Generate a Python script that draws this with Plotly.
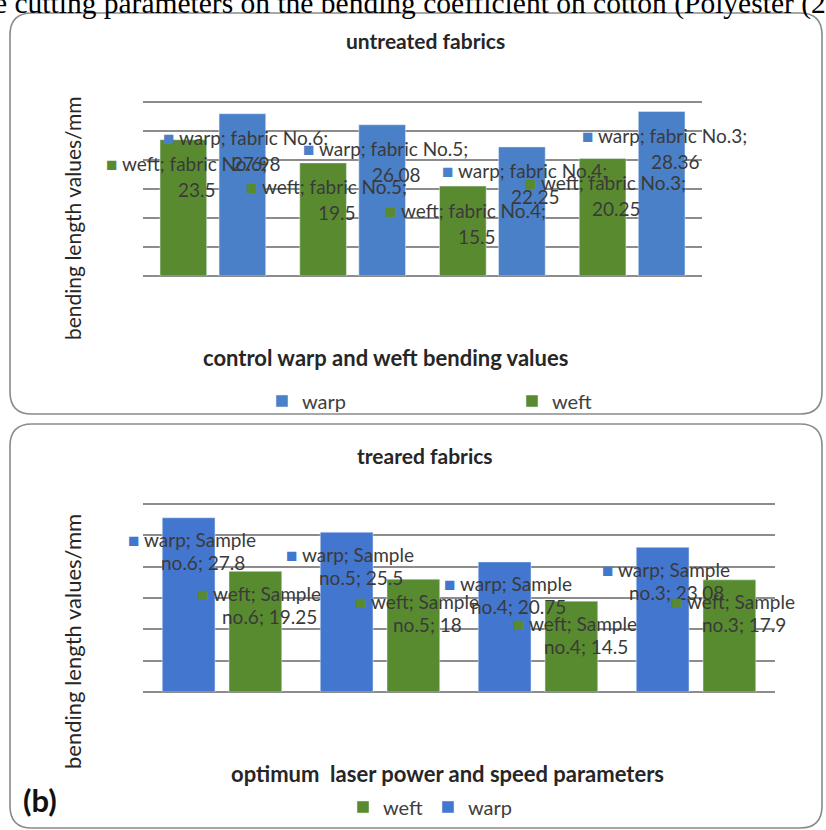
import plotly.graph_objects as go

# ---------------- data ----------------
top_categories = ["fabric No.6", "fabric No.5", "fabric No.4", "fabric No.3"]
top_weft = [23.5, 19.5, 15.5, 20.25]
top_warp = [27.98, 26.08, 22.25, 28.36]

bottom_categories = ["Sample no.6", "Sample no.5", "Sample no.4", "Sample no.3"]
bottom_warp = [27.8, 25.5, 20.75, 23.08]
bottom_weft = [19.25, 18, 14.5, 17.9]

top_title = "untreated fabrics"
bottom_title = "treared fabrics"
top_xtitle = "control warp and weft bending values"
bottom_xtitle = "optimum  laser power and speed parameters"
ytitle = "bending length values/mm"
caption = "e cutting parameters on the bending coefficient on cotton (Polyester (2"

# ---------------- style ----------------
W, H = 826, 830
FONT = "Lato"
WARP_TOP = "#4a80c8"
WEFT_TOP = "#5a8a30"
WARP_BOT = "#4376cf"
WEFT_BOT = "#588a2f"
GRID = "#8c8c8c"
LABEL = "#3a3a3a"
YMAX = 30.6


def px(x):
    return x / W


def py(y):
    return 1 - y / H


fig = go.Figure()

fig.add_trace(go.Bar(x=top_categories, y=top_weft, name="weft", marker_color=WEFT_TOP,
                     xaxis="x", yaxis="y", legend="legend", legendrank=2))
fig.add_trace(go.Bar(x=top_categories, y=top_warp, name="warp", marker_color=WARP_TOP,
                     xaxis="x", yaxis="y", legend="legend", legendrank=1))
fig.add_trace(go.Bar(x=bottom_categories, y=bottom_warp, name="warp", marker_color=WARP_BOT,
                     xaxis="x2", yaxis="y2", legend="legend2", legendrank=2))
fig.add_trace(go.Bar(x=bottom_categories, y=bottom_weft, name="weft", marker_color=WEFT_BOT,
                     xaxis="x2", yaxis="y2", legend="legend2", legendrank=1))

annotations = []
LFS = 19


def add_labels(cats, vals, series, color, xref, yref, xoff, l1, l2, split):
    for c, v in zip(cats, vals):
        if split:
            first, rest = c.split(" ", 1)
            t1 = f"{series}; {first}"
            t2 = f"{rest}; {v:g}"
        else:
            t1 = f"{series}; {c};"
            t2 = f"{v:g}"
        annotations.append(dict(
            x=c, y=v, xref=xref, yref=yref, showarrow=False,
            text=f"<span style='color:{color}'>■</span> {t1}",
            font=dict(family=FONT, size=LFS, color=LABEL),
            xanchor="center", yanchor="middle", xshift=xoff + 3, yshift=-l1))
        annotations.append(dict(
            x=c, y=v, xref=xref, yref=yref, showarrow=False, text=t2,
            font=dict(family=FONT, size=LFS, color=LABEL),
            xanchor="center", yanchor="middle", xshift=xoff + 14, yshift=-l2))


add_labels(top_categories, top_weft, "weft", WEFT_TOP, "x", "y", -29.5, 24, 50, False)
add_labels(top_categories, top_warp, "warp", WARP_TOP, "x", "y", 29.5, 24, 50, False)
add_labels(bottom_categories, bottom_warp, "warp", WARP_BOT, "x2", "y2", -33.5, 22, 45, True)
add_labels(bottom_categories, bottom_weft, "weft", WEFT_BOT, "x2", "y2", 33.5, 22, 45, True)


def text_ann(text, x, y, size, bold=False, angle=0, family=FONT, color="#262626", xanchor="center"):
    annotations.append(dict(
        x=px(x), y=py(y), xref="paper", yref="paper", showarrow=False,
        text=f"<b>{text}</b>" if bold else text, textangle=angle,
        font=dict(family=family, size=size, color=color),
        xanchor=xanchor, yanchor="middle"))


text_ann(caption, -8, 3, 29.5, family="Liberation Serif", color="#000000", xanchor="left")
text_ann(top_title, 425, 41, 21, bold=True)
text_ann(bottom_title, 425, 455, 21, bold=True)
text_ann(top_xtitle, 385, 357, 22, bold=True)
text_ann(bottom_xtitle, 447, 773, 22, bold=True)
text_ann(ytitle, 72, 218, 21, angle=-90, color="#262626")
text_ann(ytitle, 72, 642, 22, angle=-90, color="#262626")
text_ann("(b)", 40, 800, 31, bold=True, color="#111111")


def rounded_paper(x0, y0, x1, y1, r):
    def P(x, y):
        return f"{px(x):.5f},{py(y):.5f}"
    return (f"M {P(x0 + r, y0)} L {P(x1 - r, y0)} Q {P(x1, y0)} {P(x1, y0 + r)} "
            f"L {P(x1, y1 - r)} Q {P(x1, y1)} {P(x1 - r, y1)} L {P(x0 + r, y1)} "
            f"Q {P(x0, y1)} {P(x0, y1 - r)} L {P(x0, y0 + r)} Q {P(x0, y0)} {P(x0 + r, y0)} Z")


def panel(x0, y0, x1, y1, r):
    return dict(type="path", xref="paper", yref="paper",
                path=rounded_paper(x0, y0, x1, y1, r),
                line=dict(color="#8a8a8a", width=1.6), fillcolor="rgba(0,0,0,0)", layer="below")


shapes = [panel(10, 13, 822, 414, 22), panel(10, 424, 822, 828, 22)]

axis_common = dict(showticklabels=False, ticks="", showline=False, zeroline=True,
                   zerolinecolor=GRID, zerolinewidth=2, gridcolor=GRID, gridwidth=1.8,
                   range=[0, YMAX], dtick=5, tick0=0, fixedrange=True)
xaxis_common = dict(showticklabels=False, ticks="", showgrid=False, showline=False,
                    fixedrange=True, range=[-0.5, 3.5])


def ydom(base, top30):
    top = base - (base - top30) * YMAX / 30
    return [py(base), py(top)]


fig.update_layout(
    width=W, height=H, autosize=False,
    margin=dict(l=0, r=0, t=0, b=0),
    paper_bgcolor="white", plot_bgcolor="rgba(0,0,0,0)",
    font=dict(family=FONT, color="#404040"),
    barmode="group", bargap=0.155, bargroupgap=0.21,
    xaxis=dict(domain=[px(143), px(702)], anchor="y", **xaxis_common),
    yaxis=dict(domain=ydom(276, 102), anchor="x", **axis_common),
    xaxis2=dict(domain=[px(143), px(775)], anchor="y2", **xaxis_common),
    yaxis2=dict(domain=ydom(692, 504), anchor="x2", **axis_common),
    legend=dict(orientation="h", x=px(262), y=py(401), xanchor="left", yanchor="middle",
                entrywidth=205, font=dict(family=FONT, size=20, color="#404040"),
                bgcolor="rgba(0,0,0,0)", itemclick=False, itemdoubleclick=False),
    legend2=dict(orientation="h", x=px(343), y=py(807), xanchor="left", yanchor="middle",
                 entrywidth=40, font=dict(family=FONT, size=20, color="#404040"),
                 bgcolor="rgba(0,0,0,0)", itemclick=False, itemdoubleclick=False),
    annotations=annotations,
    shapes=shapes,
    showlegend=True,
)

fig.write_html("out.html", config={"displayModeBar": False},
               post_script="document.body.style.margin='0';")
